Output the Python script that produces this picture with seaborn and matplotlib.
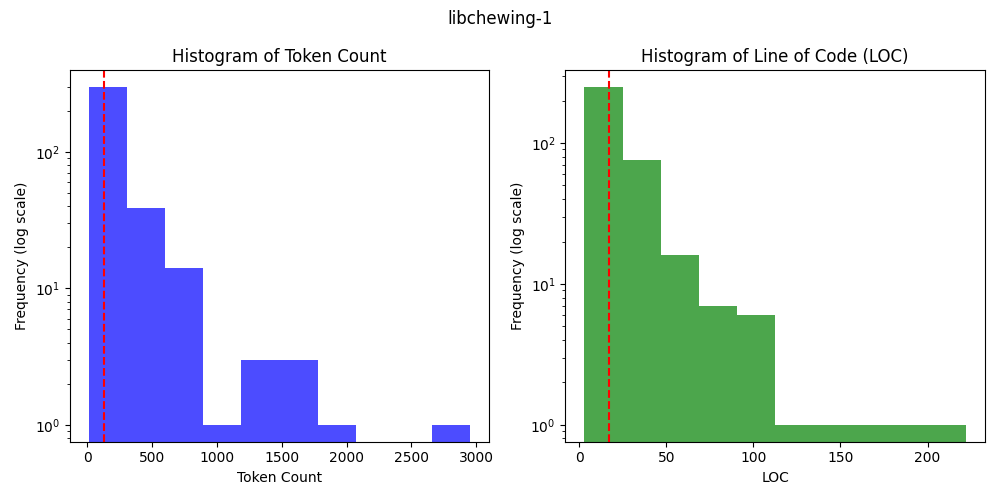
import numpy as np
import pandas as pd
import matplotlib
matplotlib.use("Agg")
import matplotlib.pyplot as plt
import seaborn as sns

# Token count histogram (10 equal bins)
token_range = (10, 2954)
token_counts = [297, 39, 14, 1, 3, 3, 1, 0, 0, 1]
token_marker = 131  # red dashed reference line

# LOC histogram (10 equal bins)
loc_range = (3, 222)
loc_counts = [249, 76, 16, 7, 6, 1, 1, 1, 1, 1]
loc_marker = 17

fig, axes = plt.subplots(1, 2, figsize=(10, 5), dpi=100)


def draw(ax, rng, counts, marker, color, title, xlabel):
    edges = np.linspace(rng[0], rng[1], len(counts) + 1)
    centers = (edges[:-1] + edges[1:]) / 2
    df = pd.DataFrame({"value": centers, "count": counts})
    sns.histplot(data=df, x="value", weights="count", bins=edges.tolist(),
                 ax=ax, color=color, alpha=0.7, linewidth=0)
    ax.set_yscale("log")
    ax.axvline(marker, color="red", linestyle="--", linewidth=1.5)
    ax.set_title(title)
    ax.set_xlabel(xlabel)
    ax.set_ylabel("Frequency (log scale)")


draw(axes[0], token_range, token_counts, token_marker, "blue",
     "Histogram of Token Count", "Token Count")
draw(axes[1], loc_range, loc_counts, loc_marker, "green",
     "Histogram of Line of Code (LOC)", "LOC")

fig.suptitle("libchewing-1")
fig.tight_layout()
fig.savefig("out.png", dpi=100)
